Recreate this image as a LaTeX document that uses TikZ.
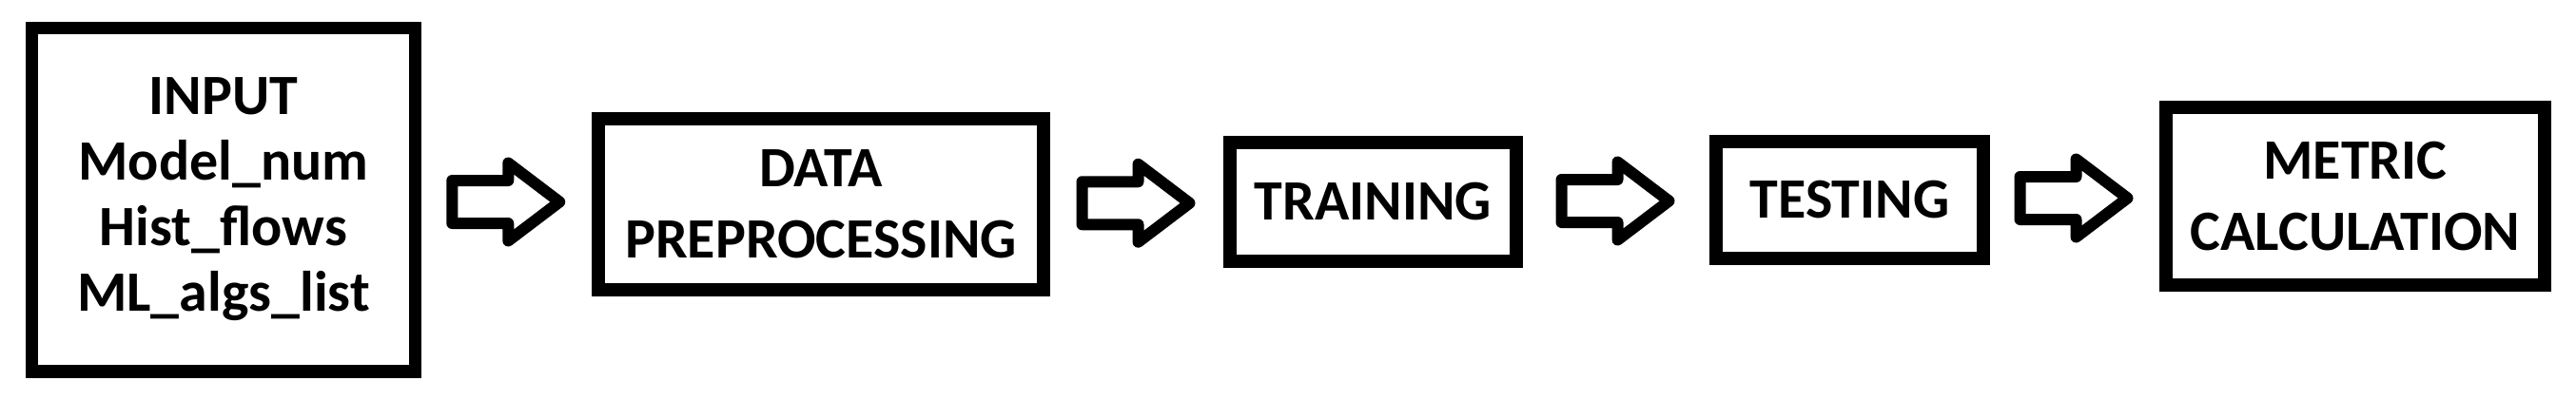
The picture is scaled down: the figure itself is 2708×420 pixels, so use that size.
\documentclass[tikz,border=0pt]{standalone}
\usepackage{fontspec}
\setmainfont{Carlito}
\usetikzlibrary{calc}
\tikzset{
  box/.style={draw=black, line width=6.75pt, fill=white, inner sep=0pt,
    align=center, font=\fontsize{30}{37.5}\selectfont\bfseries},
  blockarrow/.style={draw=black, line width=6pt, line join=round, fill=white},
}
\newcommand\flowarrow[2]{%
  \coordinate (m) at ($(#1.east)!.5!(#2.west)$);
  \draw[blockarrow, shift={(m)}] (-57.5,-22.5) -- (1.5,-22.5) -- (1.5,-41)
    -- (55.5,0) -- (1.5,41) -- (1.5,22.5) -- (-57.5,22.5) -- cycle;}
\begin{document}
\begin{tikzpicture}[x=0.5pt,y=-0.5pt]
\useasboundingbox (0,0) rectangle (2708,420);
\fill[white] (0,0) rectangle (2708,420);
\node[box, minimum width=201.5pt, minimum height=180.75pt,
  font=\fontsize{30}{34.5}\selectfont\bfseries] (in) at (235,210)
  {INPUT\\Model\_num\\Hist\_flows\\ML\_algs\_list};
\node[box, minimum width=234pt, minimum height=90pt] (dp) at (863,215)
  {DATA\\PREPROCESSING};
\node[box, minimum width=150.5pt, minimum height=62.5pt] (tr) at (1443.5,212.5)
  {TRAINING};
\node[box, minimum width=140.5pt, minimum height=61.5pt] (te) at (1944.5,210.5)
  {TESTING};
\node[box, minimum width=199pt, minimum height=93.5pt] (mc) at (2476,206.5)
  {METRIC\\CALCULATION};
\flowarrow{in}{dp}
\flowarrow{dp}{tr}
\flowarrow{tr}{te}
\flowarrow{te}{mc}
\end{tikzpicture}
\end{document}
